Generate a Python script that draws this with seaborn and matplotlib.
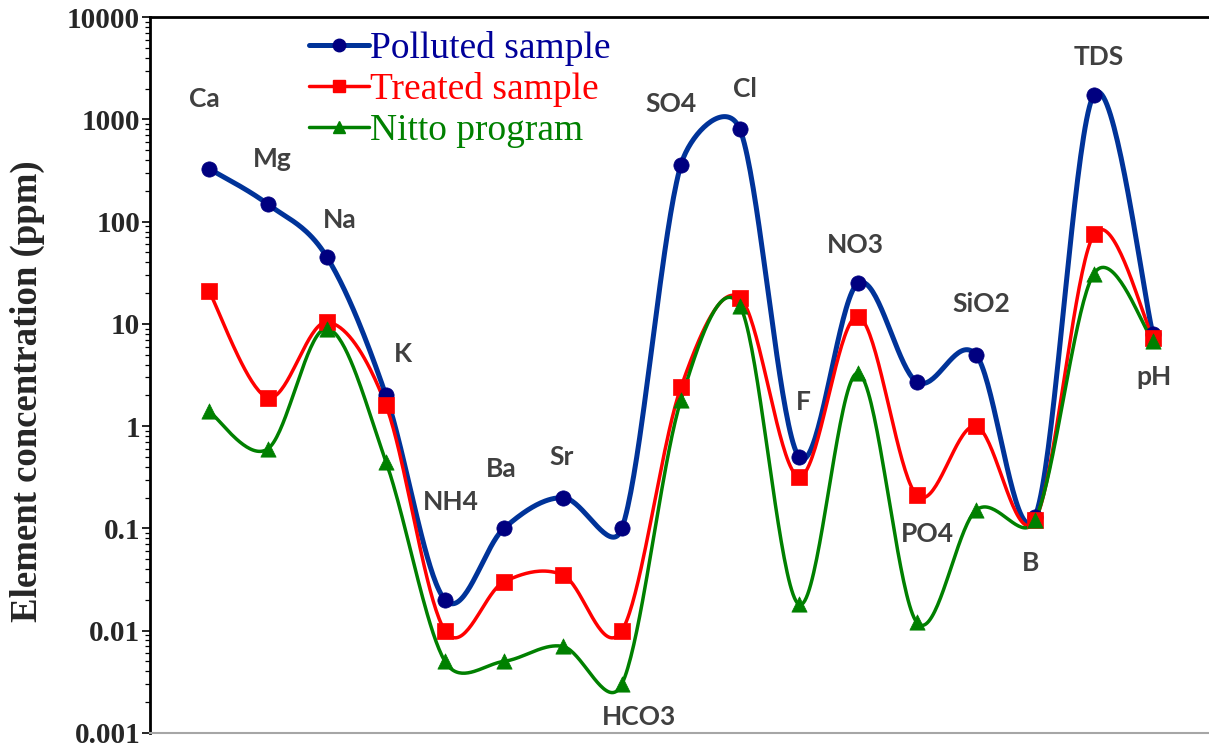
import numpy as np
import pandas as pd
import matplotlib
matplotlib.use("Agg")
import matplotlib.pyplot as plt
from matplotlib.lines import Line2D
import seaborn as sns

# ---------------- data ----------------
categories = ["Ca", "Mg", "Na", "K", "NH4", "Ba", "Sr", "HCO3", "SO4", "Cl",
              "F", "NO3", "PO4", "SiO2", "B", "TDS", "pH"]
polluted = [330, 148, 45, 2.0, 0.02, 0.1, 0.2, 0.1, 360, 800,
            0.5, 25, 2.7, 5.0, 0.13, 1750, 7.9]
treated = [21, 1.9, 10.4, 1.6, 0.01, 0.03, 0.035, 0.01, 2.4, 18,
           0.32, 11.8, 0.21, 1.0, 0.12, 75, 7.3]
nitto = [1.4, 0.6, 9.0, 0.45, 0.005, 0.005, 0.007, 0.003, 1.8, 15,
         0.018, 3.3, 0.012, 0.15, 0.12, 31, 6.8]
series_names = ["Polluted sample", "Treated sample", "Nitto program"]
yticks = [0.001, 0.01, 0.1, 1, 10, 100, 1000, 10000]
ytick_labels = ["0.001", "0.01", "0.1", "1", "10", "100", "1000", "10000"]

# label layout (x offset from category, baseline y in data units)
label_dx = [-0.07, 0.07, 0.22, 0.29, 0.10, -0.05, -0.03, 0.29, -0.17, 0.08,
            0.07, -0.05, 0.17, 0.10, -0.07, 0.08, 0.02]
label_y = [1313, 340, 86, 4.2, 0.151, 0.317, 0.416, 0.00119, 1173, 1644,
           1.43, 49, 0.0735, 13, 0.0383, 3380, 2.52]


def smooth_display(ax, xs, ys, n=40, k=0.5):
    """Excel-like smoothed line computed in screen space."""
    T = ax.transData
    P = T.transform(np.column_stack([np.asarray(xs, float), np.asarray(ys, float)]))
    m = len(P)
    out = []
    for i in range(m - 1):
        p0 = P[i - 1] if i > 0 else P[i]
        p1 = P[i]
        p2 = P[i + 1]
        p3 = P[i + 2] if i + 2 < m else P[i + 1]
        d12 = np.linalg.norm(p2 - p1)
        t1 = p2 - p0
        m1 = np.linalg.norm(t1)
        t2 = p3 - p1
        m2 = np.linalg.norm(t2)
        c1 = p1 + (t1 / m1) * min(m1 / 6.0, k * d12) if m1 > 0 else p1
        c2 = p2 - (t2 / m2) * min(m2 / 6.0, k * d12) if m2 > 0 else p2
        t = np.linspace(0, 1, n, endpoint=(i == m - 2))[:, None]
        b = ((1 - t) ** 3) * p1 + 3 * ((1 - t) ** 2) * t * c1 + 3 * (1 - t) * t ** 2 * c2 + t ** 3 * p2
        out.append(b)
    B = T.inverted().transform(np.vstack(out))
    return B[:, 0], B[:, 1]


sns.set_theme(style="white")
plt.rcParams["font.family"] = ["DejaVu Sans"]

fig = plt.figure(figsize=(12.09, 7.47), dpi=100)
ax = fig.add_axes([0.124, 0.019, 0.876, 0.958])
ax.set_yscale("log")
ax.set_ylim(0.001, 10000)
ax.set_xlim(-1.0, 16.95)

xpos = np.arange(len(categories))
styles = [
    dict(data=polluted, line="#003399", mk="#000080", marker="o", lw=3.6, ms=11, name=series_names[0], tc="#000099"),
    dict(data=treated, line="#FF0000", mk="#FF0000", marker="s", lw=2.5, ms=11, name=series_names[1], tc="#FF0000"),
    dict(data=nitto, line="#008000", mk="#008000", marker="^", lw=2.5, ms=11, name=series_names[2], tc="#008000"),
]

for s in styles:
    sx, sy = smooth_display(ax, xpos, s["data"])
    sns.lineplot(x=sx, y=sy, ax=ax, color=s["line"], lw=s["lw"], sort=False,
                 estimator=None, zorder=2)
for s in styles:
    sns.scatterplot(x=xpos, y=s["data"], ax=ax, color=s["mk"], marker=s["marker"],
                    s=s["ms"] ** 2, edgecolor=s["mk"], linewidth=0.5, zorder=3)

ax.set_ylim(0.001, 10000)
ax.set_xlim(-1.0, 16.95)
ax.set_xticks([])
ax.set_xlabel("")
ax.set_yticks(yticks)
ax.set_yticklabels(ytick_labels, fontfamily="Liberation Serif", fontweight="bold", fontsize=21)
ax.tick_params(axis="y", which="major", direction="out", length=6, width=1.2, color="black", pad=1, left=True)
ax.tick_params(axis="y", which="minor", direction="out", length=3.5, width=0.9, color="black", left=True)
ax.yaxis.set_minor_locator(matplotlib.ticker.LogLocator(base=10, subs=np.arange(2, 10)))
ax.yaxis.set_minor_formatter(matplotlib.ticker.NullFormatter())
ax.set_ylabel("Element concentration (ppm)", fontfamily="Liberation Serif",
              fontweight="bold", fontsize=26.5)
ax.yaxis.set_label_coords(-0.099, 0.478)

for side in ["left", "top"]:
    ax.spines[side].set_color("black")
    ax.spines[side].set_linewidth(2.0)
ax.spines["bottom"].set_color("#A6A6A6")
ax.spines["bottom"].set_linewidth(1.5)
ax.spines["right"].set_visible(False)

for i, lab in enumerate(categories):
    ax.text(xpos[i] + label_dx[i], label_y[i], lab, ha="center", va="baseline",
            fontfamily="Lato", fontweight="bold", fontsize=19, color="#404040", zorder=4)

handles = [Line2D([0], [0], color=s["line"], lw=s["lw"], marker=s["marker"],
                  markersize=9, markerfacecolor=s["mk"], markeredgecolor=s["mk"])
           for s in styles]
leg = ax.legend(handles, [s["name"] for s in styles], loc="upper left",
                bbox_to_anchor=(0.1396, 0.996), frameon=False, handlelength=1.6,
                handletextpad=0.02, labelspacing=0.16, borderaxespad=0.0, borderpad=0.3,
                prop=dict(family="Liberation Serif", size=27))
for t, s in zip(leg.get_texts(), styles):
    t.set_color(s["tc"])

fig.savefig("out.png", dpi=100)
